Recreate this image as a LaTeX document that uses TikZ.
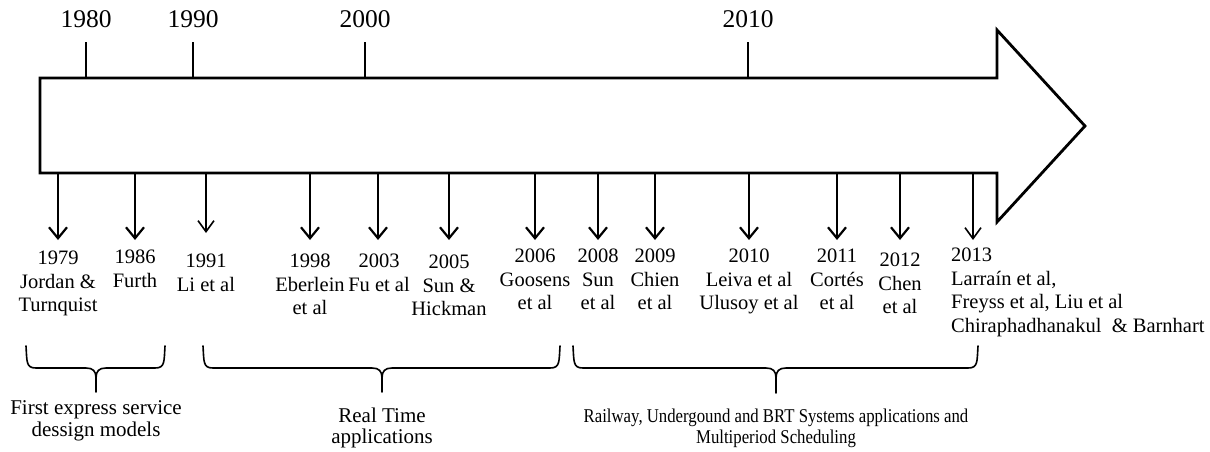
\documentclass[tikz,border=0pt]{standalone}
\usepackage{fontspec}
\setmainfont{Liberation Serif}
\newfontfamily\narrowserif[FakeStretch=0.86]{Liberation Serif}
\usetikzlibrary{arrows.meta}
\begin{document}
\begin{tikzpicture}[x=1pt,y=-1pt,
  timeline/.style={line width=2.8pt, line join=miter},
  yeartick/.style={line width=1.4pt},
  toplabel/.style={font=\fontsize{25.5}{28}\selectfont, inner sep=0pt},
  entry/.style={font=\fontsize{20.5}{23.4}\selectfont, inner sep=0pt, align=center, anchor=north},
  pointer/.style={line width=2pt, -{Straight Barb[length=11pt,width=18pt,line width=2.2pt]}},
  thinpointer/.style={line width=1.2pt, -{Straight Barb[length=11pt,width=16pt,line width=1.6pt]}},
  brace/.style={line width=1.6pt, line cap=round},
  grouplabel/.style={font=\fontsize{21}{22}\selectfont, inner sep=0pt, align=center, anchor=north},
]
\useasboundingbox (0,0) rectangle (1210,452);

% the large timeline arrow
\draw[timeline] (40,78) -- (997,78) -- (997,30) -- (1085,126) -- (997,222) -- (997,173) -- (40,173) -- cycle;

% decade ticks above the arrow
\foreach \name/\x/\yr in {t80/86/1980, t90/193/1990, t00/365/2000, t10/748/2010}{
  \coordinate (\name a) at (\x,78);
  \coordinate (\name b) at (\x,42);
  \draw[yeartick] (\name a) -- (\name b);
  \node[toplabel] (\name) at (\x,19) {\yr};
}

% publications below the arrow
\node[entry] (e79) at (58,251)  {1979\\Jordan \&\\Turnquist};
\node[entry] (e86) at (135,250) {1986\\Furth};
\node[entry] (e91) at (206,254) {1991\\Li et al};
\node[entry] (e98) at (310,254) {1998\\Eberlein\\et al};
\node[entry] (e03) at (379,254) {2003\\Fu et al};
\node[entry] (e05) at (449,255) {2005\\Sun \&\\Hickman};
\node[entry] (e06) at (535,249) {2006\\Goosens\\et al};
\node[entry] (e08) at (598,249) {2008\\Sun\\et al};
\node[entry] (e09) at (655,249) {2009\\Chien\\et al};
\node[entry] (e10) at (749,249) {2010\\Leiva et al\\Ulusoy et al};
\node[entry] (e11) at (837,249) {2011\\Cortés\\et al};
\node[entry] (e12) at (900,253) {2012\\Chen\\et al};
\node[entry, align=left, anchor=north west] (e13) at (951,248)
  {2013\\Larraín et al,\\Freyss et al, Liu et al\\Chiraphadhanakul\ \ \& Barnhart};

% pointers from the arrow to each publication
\foreach \name/\x in {p79/58, p86/135, p98/310, p03/378, p05/449, p06/535, p08/598, p09/655, p10/749, p11/837, p12/900}{
  \coordinate (\name s) at (\x,173);
  \coordinate (\name e) at (\x,240);
  \draw[pointer] (\name s) -- (\name e);
}
\coordinate (p91s) at (206,173);
\coordinate (p91e) at (206,233);
\draw[thinpointer] (p91s) -- (p91e);
\coordinate (p13s) at (973,173);
\coordinate (p13e) at (973,240);
\draw[thinpointer] (p13s) -- (p13e);

% group braces
\draw[brace] (26,346) .. controls (27,362) and (26,368) .. (36,368) -- (86,368)
  .. controls (93,368) and (96,371) .. (96,378) -- (96,392);
\draw[brace] (165,346) .. controls (164,362) and (165,368) .. (155,368) -- (106,368)
  .. controls (99,368) and (96,371) .. (96,378);
\draw[brace] (203,346) .. controls (204,362) and (203,368) .. (213,368) -- (372,368)
  .. controls (379,368) and (382,371) .. (382,378) -- (382,392);
\draw[brace] (560,346) .. controls (559,362) and (560,368) .. (550,368) -- (392,368)
  .. controls (385,368) and (382,371) .. (382,378);
\draw[brace] (573,346) .. controls (574,362) and (573,368) .. (583,368) -- (766,368)
  .. controls (773,368) and (776,371) .. (776,378) -- (776,393);
\draw[brace] (978,346) .. controls (977,362) and (978,368) .. (968,368) -- (786,368)
  .. controls (779,368) and (776,371) .. (776,378);

% group labels
\node[grouplabel] (g1) at (96,400) {First express service\\dessign models};
\node[grouplabel, font=\fontsize{21}{20.5}\selectfont] (g2) at (382,408) {Real Time\\applications};
\node[grouplabel, font=\narrowserif\fontsize{19.5}{21}\selectfont] (g3) at (776,409)
  {Railway, Undergound and BRT Systems applications and\\Multiperiod Scheduling};
\end{tikzpicture}
\end{document}
